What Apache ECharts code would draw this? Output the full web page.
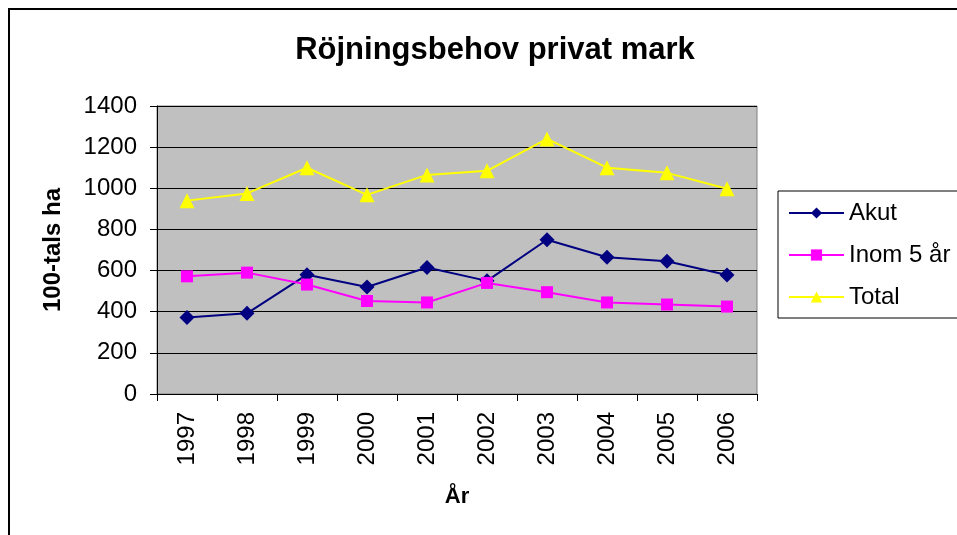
<!DOCTYPE html>
<html lang="sv">
  <head>
    <meta charset="utf-8" />
    <title>Röjningsbehov privat mark</title>
    <script src="https://cdn.jsdelivr.net/npm/echarts@6/dist/echarts.min.js"></script>
    <style>
      html, body { margin: 0; padding: 0; background: #fff; }
      #chart { width: 957px; height: 535px; }
    </style>
  </head>
  <body>
    <div id="chart"></div>
    <script>
      // data
      const years = ["1997", "1998", "1999", "2000", "2001", "2002", "2003", "2004", "2005", "2006"];
      const akut = [372, 392, 580, 520, 615, 550, 750, 665, 645, 578];
      const inom5 = [572, 590, 532, 452, 445, 540, 495, 445, 435, 425];
      const total = [940, 975, 1100, 968, 1065, 1085, 1240, 1100, 1075, 998];

      const font = "Liberation Sans, Arial, sans-serif";
      const chart = echarts.init(document.getElementById("chart"));

      chart.setOption({
        animation: false,
        backgroundColor: "#fff",
        graphic: [
          {
            type: "rect",
            shape: { x: 9, y: 9, width: 1000, height: 600 },
            style: { fill: "none", stroke: "#000", lineWidth: 2 },
            silent: true,
          },
        ],
        title: {
          text: "Röjningsbehov privat mark",
          left: 490,
          textAlign: "center",
          top: 30,
          textStyle: { fontFamily: font, fontSize: 31, fontWeight: "bold", color: "#000" },
        },
        legend: {
          orient: "vertical",
          left: 778,
          top: 191,
          itemWidth: 55,
          itemHeight: 14,
          itemGap: 18,
          padding: [10, 12, 9, 10],
          borderColor: "#000",
          borderWidth: 1,
          textStyle: { fontFamily: font, fontSize: 24, color: "#000" },
          data: ["Akut", "Inom 5 år", "Total"],
        },
        grid: {
          left: 157,
          right: 200,
          top: 106,
          bottom: 141,
          show: true,
          backgroundColor: "#c0c0c0",
          borderColor: "#808080",
          borderWidth: 1,
        },
        xAxis: {
          type: "category",
          data: years,
          boundaryGap: true,
          name: "År",
          nameLocation: "middle",
          nameGap: 92,
          nameTextStyle: { fontFamily: font, fontSize: 22, fontWeight: "bold", color: "#000" },
          axisLine: { lineStyle: { color: "#000", width: 1 } },
          axisTick: { show: true, alignWithLabel: false, length: 7, lineStyle: { color: "#000" } },
          axisLabel: {
            rotate: 90,
            margin: 18,
            fontFamily: font,
            fontSize: 24,
            color: "#000",
          },
        },
        yAxis: {
          type: "value",
          min: 0,
          max: 1400,
          interval: 200,
          name: "100-tals ha",
          nameLocation: "middle",
          nameGap: 92,
          nameRotate: 90,
          nameTextStyle: { fontFamily: font, fontSize: 24, fontWeight: "bold", color: "#000" },
          axisLine: { show: true, lineStyle: { color: "#000", width: 1 } },
          axisTick: { show: true, length: 7, lineStyle: { color: "#000" } },
          splitLine: { show: true, lineStyle: { color: "#000", width: 1 } },
          axisLabel: {
            margin: 20,
            fontFamily: font,
            fontSize: 24,
            color: "#000",
            formatter: (v) => String(v),
          },
        },
        series: [
          {
            name: "Akut",
            type: "line",
            data: akut,
            color: "#000080",
            symbol: "diamond",
            symbolSize: 15,
            lineStyle: { width: 2 },
          },
          {
            name: "Inom 5 år",
            type: "line",
            data: inom5,
            color: "#ff00ff",
            symbol: "rect",
            symbolSize: 12,
            lineStyle: { width: 2 },
          },
          {
            name: "Total",
            type: "line",
            data: total,
            color: "#ffff00",
            symbol: "triangle",
            symbolSize: 15,
            lineStyle: { width: 2 },
          },
        ],
      });
    </script>
  </body>
</html>
